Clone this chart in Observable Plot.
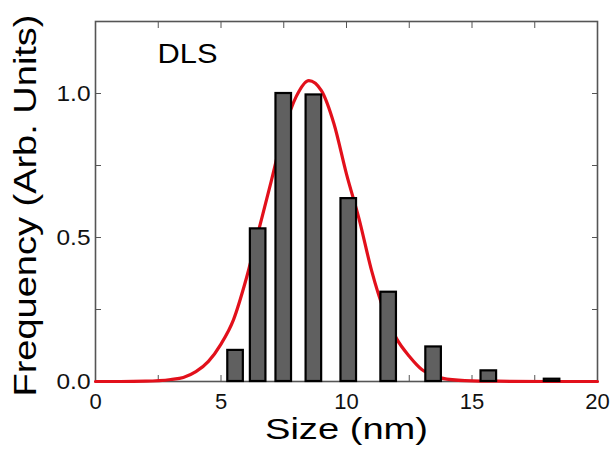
<!DOCTYPE html>
<html>
<head>
<meta charset="utf-8">
<script src="https://cdn.jsdelivr.net/npm/d3@7"></script>
<script src="https://cdn.jsdelivr.net/npm/@observablehq/plot@0.6"></script>
<style>
  html, body { margin: 0; padding: 0; background: #fff; }
  #chart svg { display: block; font-family: "Liberation Sans", Arial, sans-serif; }
</style>
</head>
<body>
<div id="chart"></div>
<script>
// Histogram bars (bin centres in nm, normalised frequency)
const binCenters = [5.58, 6.48, 7.50, 8.70, 10.09, 11.68, 13.47, 15.67, 18.19];
const binValues  = [0.108, 0.530, 1.000, 0.995, 0.635, 0.310, 0.120, 0.037, 0.008];

// Fitted distribution curve
const curveX = [0, 1, 2, 3, 3.5, 4, 4.5, 5, 5.5, 6, 6.5, 7, 7.5, 8, 8.5, 9, 9.5, 10, 10.5, 11, 11.5, 12, 12.5, 13, 13.5, 14, 15, 16, 18, 20];
const curveY = [0, 0, 0.001, 0.007, 0.014, 0.034, 0.07, 0.13, 0.215, 0.355, 0.525, 0.695, 0.87, 0.99, 1.045, 1.01, 0.895, 0.72, 0.565, 0.385, 0.245, 0.148, 0.088, 0.042, 0.02, 0.008, 0.002, 0.001, 0, 0];

const xTicks = [0, 2.5, 5, 7.5, 10, 12.5, 15, 17.5, 20];
const yTicks = [0, 0.25, 0.5, 0.75, 1.0];
const xLabel = "Size (nm)";
const yLabel = "Frequency (Arb. Units)";
const tag = "DLS";

const barWidth = 0.62;
const bars = binCenters.map((c, i) => ({x1: c - barWidth / 2, x2: c + barWidth / 2, y: binValues[i]}));
const curve = curveX.map((x, i) => ({x, y: curveY[i]}));

const axisColor = "#555";
const fmtX = d => (d % 5 === 0 ? String(d) : "");
const fmtY = d => (Math.abs(d * 2 - Math.round(d * 2)) < 1e-9 ? d.toFixed(1) : "");

const chart = Plot.plot({
  width: 615,
  height: 454,
  marginLeft: 95,
  marginRight: 18,
  marginTop: 21,
  marginBottom: 73,
  style: {fontFamily: "'Liberation Sans', Arial, sans-serif", background: "#fff"},
  x: {domain: [0, 20]},
  y: {domain: [0, 1.25]},
  marks: [
    Plot.frame({stroke: axisColor, strokeWidth: 1.6}),
    Plot.axisX({anchor: "bottom", ticks: xTicks, tickSize: -6, tickPadding: 18, tickFormat: fmtX, fontSize: 22, color: "#111", stroke: axisColor, label: null}),
    Plot.axisX({anchor: "top", ticks: xTicks, tickSize: -6, tickFormat: () => "", stroke: axisColor, label: null}),
    Plot.axisY({anchor: "left", ticks: yTicks, tickSize: -6, tickPadding: 11, tickFormat: fmtY, fontSize: 22, color: "#111", stroke: axisColor, label: null}),
    Plot.axisY({anchor: "right", ticks: yTicks, tickSize: -6, tickFormat: () => "", stroke: axisColor, label: null}),
    Plot.line(curve, {x: "x", y: "y", stroke: "#e2101b", strokeWidth: 3.2, curve: "monotone-x"}),
    Plot.rectY(bars, {x1: "x1", x2: "x2", y: "y", fill: "#606060", stroke: "#000", strokeWidth: 2.2}),
    Plot.text([tag], {frameAnchor: "top-left", dx: 62, dy: 33, textAnchor: "start", lineAnchor: "middle", fontSize: 28, fill: "#000"}),
    Plot.text([xLabel], {frameAnchor: "bottom", dy: 48, textAnchor: "middle", lineAnchor: "middle", fontSize: 30, fill: "#000"}),
    Plot.text([yLabel], {frameAnchor: "left", dx: -70, dy: 4, rotate: -90, textAnchor: "middle", lineAnchor: "middle", fontSize: 32, fill: "#000"})
  ]
});

// stretch texts horizontally to the widths seen in the reference
const stretch = {[xLabel]: 163, [yLabel]: 382, [tag]: 60, "0.0": 34, "0.5": 34, "1.0": 34};
d3.select(chart).selectAll("text").each(function () {
  const t = this.textContent;
  if (stretch[t]) d3.select(this).attr("textLength", stretch[t]).attr("lengthAdjust", "spacingAndGlyphs");
});
document.getElementById("chart").appendChild(chart);
</script>
</body>
</html>
